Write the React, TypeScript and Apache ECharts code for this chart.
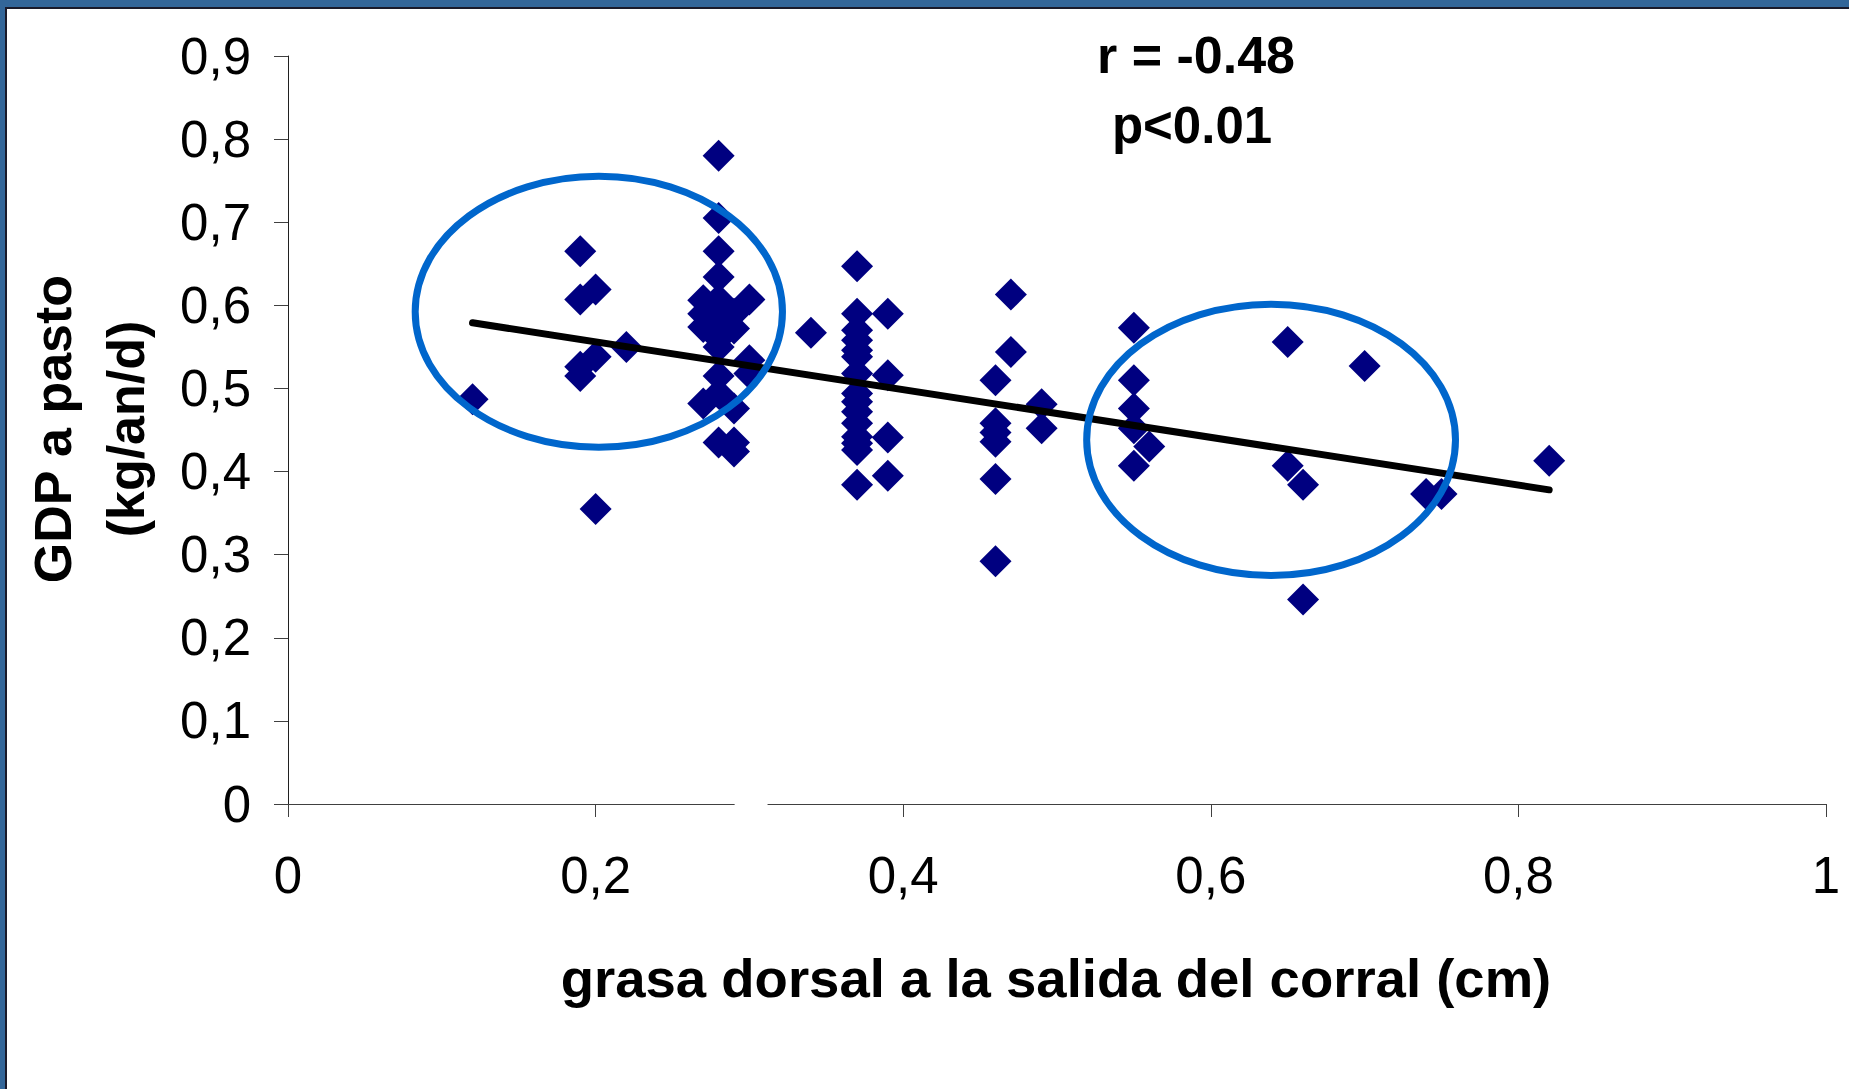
import React, { useEffect, useRef } from "react";
import * as echarts from "echarts";

// Tick labels
const xTickLabels = ["0", "0,2", "0,4", "0,6", "0,8", "1"];
const yTickLabels = ["0", "0,1", "0,2", "0,3", "0,4", "0,5", "0,6", "0,7", "0,8", "0,9"];

// Observations: grasa dorsal (cm) and GDP a pasto (kg/an/d)
const grasaX = [
  0.12,
  0.19, 0.19, 0.19, 0.19,
  0.2, 0.2, 0.2,
  0.22,
  0.27, 0.27, 0.27, 0.27,
  0.28, 0.28, 0.28, 0.28, 0.28, 0.28, 0.28, 0.28, 0.28, 0.28, 0.28, 0.28,
  0.29, 0.29, 0.29, 0.29, 0.29,
  0.3, 0.3, 0.3,
  0.34,
  0.37, 0.37, 0.37, 0.37, 0.37, 0.37, 0.37, 0.37, 0.37, 0.37, 0.37, 0.37, 0.37, 0.37, 0.37,
  0.39, 0.39, 0.39, 0.39,
  0.46, 0.46, 0.46, 0.46, 0.46, 0.46,
  0.47, 0.47,
  0.49, 0.49,
  0.55, 0.55, 0.55, 0.55, 0.55,
  0.56,
  0.65, 0.65,
  0.66, 0.66,
  0.7,
  0.74,
  0.75,
  0.82,
];
const gdpY = [
  0.487,
  0.665, 0.607, 0.526, 0.515,
  0.619, 0.538, 0.355,
  0.55,
  0.606, 0.59, 0.574, 0.482,
  0.78, 0.705, 0.665, 0.634, 0.607, 0.59, 0.574, 0.56, 0.55, 0.515, 0.494, 0.435,
  0.59, 0.572, 0.476, 0.435, 0.424,
  0.607, 0.534, 0.518,
  0.567,
  0.647, 0.59, 0.57, 0.558, 0.546, 0.538, 0.518, 0.494, 0.484, 0.472, 0.458, 0.442, 0.434, 0.426, 0.384,
  0.59, 0.516, 0.441, 0.395,
  0.51, 0.458, 0.447, 0.436, 0.391, 0.292,
  0.613, 0.544,
  0.481, 0.452,
  0.573, 0.51, 0.476, 0.452, 0.407,
  0.43,
  0.556, 0.407,
  0.384, 0.246,
  0.527,
  0.373,
  0.373,
  0.413,
];

// Trend line end points
const trendX = [0.12, 0.82];
const trendY = [0.579, 0.378];

// Highlight ellipses (data-space centre and radii)
const ellipseCx = [0.2021, 0.6392];
const ellipseCy = [0.5923, 0.4381];
const ellipseRx = [0.1194, 0.1199];
const ellipseRy = [0.163, 0.1633];

const W = 1849;
const H = 1089;
const FONT = "'Liberation Sans', Arial, sans-serif";

export default function App() {
  const ref = useRef<HTMLDivElement>(null);

  useEffect(() => {
    document.body.style.margin = "0";
    const chart = echarts.init(ref.current!, null, { renderer: "svg" });
    const option: any = {
      animation: false,
      backgroundColor: "#ffffff",
      grid: { left: 288, right: 23, top: 56, bottom: 285, containLabel: false },
      xAxis: {
        type: "value",
        min: 0,
        max: 1,
        interval: 0.2,
        axisLine: { show: true, onZero: false, lineStyle: { color: "#404040", width: 1 } },
        axisTick: { show: true, length: 13, lineStyle: { color: "#404040", width: 1 } },
        axisLabel: {
          fontSize: 51,
          fontFamily: FONT,
          color: "#000",
          margin: 46,
          formatter: (v: number) => xTickLabels[Math.round(v / 0.2)],
        },
        splitLine: { show: false },
      },
      yAxis: {
        type: "value",
        min: 0,
        max: 0.9,
        interval: 0.1,
        axisLine: { show: true, onZero: false, lineStyle: { color: "#202020", width: 1 } },
        axisTick: { show: true, length: 14, lineStyle: { color: "#404040", width: 1 } },
        axisLabel: {
          fontSize: 51,
          fontFamily: FONT,
          color: "#000",
          margin: 37,
          formatter: (v: number) => yTickLabels[Math.round(v / 0.1)],
        },
        splitLine: { show: false },
      },
      series: [
        {
          type: "scatter",
          data: grasaX.map((x, i) => [x, gdpY[i]]),
          symbol: "diamond",
          symbolSize: 32,
          itemStyle: { color: "#000080", opacity: 1 },
          z: 2,
        },
        {
          type: "line",
          data: trendX.map((x, i) => [x, trendY[i]]),
          symbol: "none",
          lineStyle: { color: "#000000", width: 7, cap: "round", opacity: 1 },
          z: 3,
        },
      ],
    };
    chart.setOption(option);

    const px = (x: number, y: number) => chart.convertToPixel({ gridIndex: 0 }, [x, y]) as number[];
    const ellipses = ellipseCx.map((cx, i) => {
      const c = px(cx, ellipseCy[i]);
      const e = px(cx + ellipseRx[i], ellipseCy[i] + ellipseRy[i]);
      return {
        type: "ellipse",
        z: 100,
        shape: { cx: c[0], cy: c[1], rx: Math.abs(e[0] - c[0]), ry: Math.abs(c[1] - e[1]) },
        style: { fill: "none", stroke: "#0066CC", lineWidth: 7 },
      };
    });
    const g0 = px(0.2904, 0);
    const g1 = px(0.3118, 0);

    chart.setOption({
      graphic: [
        { type: "rect", z: 50, shape: { x: g0[0], y: g0[1] - 4, width: g1[0] - g0[0], height: 8 }, style: { fill: "#ffffff" } },
        ...ellipses,
        {
          type: "text", z: 110, x: 1196, y: 55,
          style: { text: "r = -0.48", fontSize: 52, fontWeight: "bold", fontFamily: FONT, fill: "#000", align: "center", verticalAlign: "middle" },
        },
        {
          type: "text", z: 110, x: 1192, y: 125,
          style: { text: "p<0.01", fontSize: 51, fontWeight: "bold", fontFamily: FONT, fill: "#000", align: "center", verticalAlign: "middle" },
        },
        {
          type: "text", z: 110, x: 1056, y: 978,
          style: { text: "grasa dorsal a la salida del corral (cm)", fontSize: 54.5, fontWeight: "bold", fontFamily: FONT, fill: "#000", align: "center", verticalAlign: "middle" },
        },
        {
          type: "text", z: 110, x: 53, y: 429, rotation: Math.PI / 2,
          style: { text: "GDP a pasto", fontSize: 52, fontWeight: "bold", fontFamily: FONT, fill: "#000", align: "center", verticalAlign: "middle" },
        },
        {
          type: "text", z: 110, x: 126, y: 429, rotation: Math.PI / 2,
          style: { text: "(kg/an/d)", fontSize: 52, fontWeight: "bold", fontFamily: FONT, fill: "#000", align: "center", verticalAlign: "middle" },
        },
        { type: "rect", z: 120, shape: { x: 0, y: 0, width: W, height: 7 }, style: { fill: "#336699" } },
        { type: "rect", z: 120, shape: { x: 0, y: 7, width: W, height: 2 }, style: { fill: "#1a1a2a" } },
        { type: "rect", z: 120, shape: { x: 0, y: 0, width: 5, height: H }, style: { fill: "#336699" } },
        { type: "rect", z: 120, shape: { x: 5, y: 7, width: 2, height: H - 7 }, style: { fill: "#1a1a2a" } },
      ],
    });

    return () => chart.dispose();
  }, []);

  return <div ref={ref} style={{ width: W, height: H, position: "absolute", left: 0, top: 0 }} />;
}
